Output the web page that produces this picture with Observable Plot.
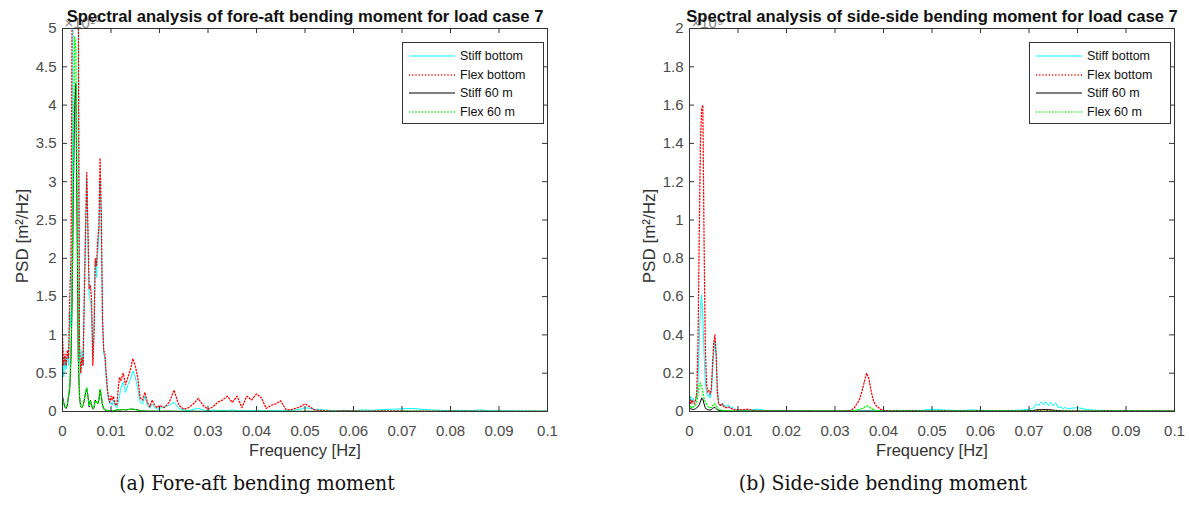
<!DOCTYPE html>
<html><head><meta charset="utf-8">
<script src="https://cdn.jsdelivr.net/npm/d3@7"></script>
<script src="https://cdn.jsdelivr.net/npm/@observablehq/plot@0.6"></script>
<style>
body{margin:0;background:#fff;}
#wrap{position:relative;width:1189px;height:510px;overflow:hidden;font-family:"Liberation Sans",Arial,sans-serif;}
.chart{position:absolute;top:0;}
.legend{position:absolute;border:1px solid #333;background:#fff;width:140px;height:80px;font-size:12.5px;color:#111;}
.legend .row{position:absolute;left:0;height:18px;line-height:18px;white-space:nowrap;}
.legend svg{position:absolute;left:5px;top:4px;}
.legend span{position:absolute;left:57px;top:0;}
.caption{position:absolute;font-family:"DejaVu Serif Condensed","DejaVu Serif",serif;font-stretch:condensed;font-size:21px;color:#111;text-align:center;width:500px;white-space:nowrap;}
</style></head><body><div id="wrap"></div>
<script>
// ---------- shared text / ticks ----------
const seriesNames = ["Stiff bottom", "Flex bottom", "Stiff 60 m", "Flex 60 m"];
const seriesColors = ["#00ffff", "#ff0000", "#000000", "#00ff00"];
const seriesDash = [null, "1.2,2", null, "1.2,2"];
const xTicks = [0, 0.01, 0.02, 0.03, 0.04, 0.05, 0.06, 0.07, 0.08, 0.09, 0.1];
const xTickLabels = ["0", "0.01", "0.02", "0.03", "0.04", "0.05", "0.06", "0.07", "0.08", "0.09", "0.1"];
const yTicksFA = [0, 0.5, 1, 1.5, 2, 2.5, 3, 3.5, 4, 4.5, 5];
const yTickLabelsFA = ["0", "0.5", "1", "1.5", "2", "2.5", "3", "3.5", "4", "4.5", "5"];
const yTicksSS = [0, 0.2, 0.4, 0.6, 0.8, 1, 1.2, 1.4, 1.6, 1.8, 2];
const yTickLabelsSS = ["0", "0.2", "0.4", "0.6", "0.8", "1", "1.2", "1.4", "1.6", "1.8", "2"];
const titleFA = "Spectral analysis of fore-aft bending moment for load case 7";
const titleSS = "Spectral analysis of side-side bending moment for load case 7";
const exponentFA = "×10¹⁰";
const exponentSS = "×10⁹";
const xLabel = "Frequency [Hz]";
const yLabel = "PSD [m²/Hz]";
const captionFA = "(a) Fore-aft bending moment";
const captionSS = "(b) Side-side bending moment";

// ---------- fore-aft data ----------
const freqFA = [
0, 0.00025, 0.0005, 0.00075, 0.001, 0.00125, 0.0015, 0.00175, 0.002, 0.00225,
0.0025, 0.00275, 0.003, 0.00325, 0.0035, 0.00375, 0.004, 0.00425, 0.0045, 0.00475,
0.005, 0.00525, 0.0055, 0.00575, 0.006, 0.00625, 0.0065, 0.00675, 0.007, 0.00725,
0.0075, 0.00775, 0.008, 0.00825, 0.0085, 0.00875, 0.009, 0.00925, 0.0095, 0.00975,
0.01, 0.01025, 0.0105, 0.01075, 0.011, 0.01125, 0.0115, 0.01175, 0.012,
0.0125, 0.013, 0.0135, 0.014, 0.0145, 0.015, 0.0155, 0.016, 0.0165, 0.017, 0.0175, 0.018, 0.0185, 0.019, 0.0195, 0.02,
0.021, 0.022, 0.023, 0.024, 0.025, 0.026, 0.027, 0.028, 0.029, 0.03, 0.031, 0.032, 0.033, 0.034, 0.035, 0.036, 0.037, 0.038, 0.039, 0.04, 0.041, 0.042, 0.043, 0.044, 0.045, 0.046, 0.047, 0.048, 0.049, 0.05,
0.052, 0.054, 0.056, 0.058, 0.06, 0.062, 0.064, 0.066, 0.068, 0.07, 0.072, 0.074, 0.076, 0.078, 0.08, 0.082, 0.084, 0.086, 0.088, 0.09, 0.092, 0.094, 0.096, 0.098, 0.1
];
const faStiffBottom = [
0.75, 0.45, 0.7, 0.55, 0.75, 0.6, 1.3, 1.1, 2.4, 6.0,
5.6, 5.3, 5.8, 5.5, 0.7, 0.5, 0.8, 0.6, 1.6, 2.4,
3.04, 2.2, 1.5, 1.45, 1.3, 0.7, 1.1, 1.95, 1.75, 2.05,
2.3, 3.0, 2.4, 1.2, 0.75, 0.7, 0.45, 0.25, 0.15, 0.1,
0.12, 0.08, 0.15, 0.1, 0.06, 0.05, 0.12, 0.2, 0.3,
0.38, 0.25, 0.35, 0.42, 0.53, 0.45, 0.3, 0.12, 0.1, 0.2, 0.08, 0.04, 0.1, 0.05, 0.03, 0.04,
0.06, 0.08, 0.12, 0.04, 0.02, 0.01, 0.03, 0.04, 0.02, 0.01, 0.02, 0.01, 0.015, 0.01, 0.02, 0.01, 0.008, 0.012, 0.01, 0.015, 0.01, 0.008, 0.01, 0.012, 0.008, 0.01, 0.015, 0.02, 0.03, 0.05,
0.03, 0.02, 0.01, 0.015, 0.01, 0.02, 0.015, 0.025, 0.03, 0.035, 0.04, 0.03, 0.02, 0.015, 0.01, 0.015, 0.01, 0.02, 0.01, 0.008, 0.01, 0.006, 0.008, 0.005, 0.005
];
const faFlexBottom = [
1.0, 0.6, 0.75, 0.6, 0.8, 0.7, 1.5, 2.0, 5.5, 6.0,
6.0, 5.8, 6.0, 5.6, 0.9, 0.5, 0.7, 0.6, 1.5, 2.3,
3.12, 2.4, 1.6, 1.65, 1.45, 0.6, 1.0, 2.0, 1.9, 2.23,
2.4, 3.31, 2.6, 1.2, 0.8, 0.75, 0.5, 0.3, 0.18, 0.12,
0.2, 0.15, 0.2, 0.12, 0.08, 0.1, 0.3, 0.45, 0.4,
0.5, 0.35, 0.45, 0.55, 0.69, 0.6, 0.45, 0.18, 0.15, 0.25, 0.12, 0.06, 0.15, 0.08, 0.05, 0.08,
0.05, 0.12, 0.28, 0.08, 0.03, 0.05, 0.1, 0.17, 0.08, 0.03, 0.06, 0.12, 0.15, 0.2, 0.12, 0.2, 0.05, 0.2, 0.15, 0.23, 0.18, 0.04, 0.08, 0.1, 0.14, 0.03, 0.02, 0.04, 0.06, 0.1,
0.02, 0.01, 0.005, 0.01, 0.008, 0.005, 0.006, 0.01, 0.008, 0.005, 0.006, 0.004, 0.005, 0.003, 0.004, 0.003, 0.003, 0.004, 0.002, 0.003, 0.002, 0.002, 0.003, 0.002, 0.002
];
const faStiff60 = [
0.2, 0.12, 0.06, 0.04, 0.08, 0.2, 0.3, 0.7, 1.5, 2.9,
4.0, 4.28, 2.5, 0.7, 0.2, 0.06, 0.05, 0.08, 0.15, 0.25,
0.3, 0.2, 0.06, 0.15, 0.08, 0.03, 0.05, 0.15, 0.12, 0.1,
0.15, 0.28, 0.2, 0.08, 0.03, 0.02, 0.015, 0.01, 0.01, 0.008,
0.01, 0.008, 0.01, 0.012, 0.015, 0.02, 0.02, 0.018, 0.02,
0.025, 0.02, 0.025, 0.03, 0.03, 0.025, 0.02, 0.01, 0.008, 0.006, 0.005, 0.004, 0.005, 0.004, 0.003, 0.003,
0.003, 0.004, 0.003, 0.002, 0.003, 0.002, 0.003, 0.002, 0.002, 0.003, 0.002, 0.002, 0.003, 0.002, 0.002, 0.002, 0.003, 0.002, 0.002, 0.002, 0.002, 0.003, 0.002, 0.002, 0.002, 0.002, 0.002, 0.002, 0.002, 0.003,
0.002, 0.002, 0.002, 0.002, 0.002, 0.002, 0.002, 0.002, 0.002, 0.003, 0.003, 0.003, 0.002, 0.002, 0.002, 0.002, 0.002, 0.002, 0.002, 0.002, 0.002, 0.002, 0.002, 0.002, 0.002
];
const faFlex60 = [
0.18, 0.1, 0.05, 0.05, 0.1, 0.22, 0.35, 0.8, 1.6, 3.2,
4.9, 4.75, 3.0, 0.8, 0.22, 0.07, 0.05, 0.09, 0.16, 0.26,
0.32, 0.2, 0.07, 0.14, 0.09, 0.04, 0.06, 0.14, 0.13, 0.1,
0.16, 0.3, 0.22, 0.09, 0.04, 0.025, 0.02, 0.012, 0.01, 0.01,
0.012, 0.01, 0.012, 0.014, 0.018, 0.022, 0.024, 0.02, 0.022,
0.028, 0.022, 0.026, 0.032, 0.03, 0.026, 0.02, 0.012, 0.008, 0.007, 0.005, 0.005, 0.005, 0.004, 0.004, 0.003,
0.003, 0.004, 0.004, 0.003, 0.003, 0.002, 0.003, 0.003, 0.002, 0.003, 0.002, 0.003, 0.003, 0.002, 0.003, 0.002, 0.003, 0.002, 0.002, 0.003, 0.002, 0.003, 0.002, 0.002, 0.002, 0.002, 0.002, 0.002, 0.002, 0.003,
0.002, 0.002, 0.002, 0.002, 0.002, 0.002, 0.002, 0.002, 0.002, 0.003, 0.003, 0.003, 0.002, 0.002, 0.002, 0.002, 0.002, 0.002, 0.002, 0.002, 0.002, 0.002, 0.002, 0.002, 0.002
];

// ---------- side-side data ----------
const freqSS = [
0, 0.00025, 0.0005, 0.00075, 0.001, 0.00125, 0.0015, 0.00175, 0.002, 0.00225,
0.0025, 0.00275, 0.003, 0.00325, 0.0035, 0.00375, 0.004, 0.00425, 0.0045, 0.00475,
0.005, 0.00525, 0.0055, 0.00575, 0.006, 0.00625, 0.0065, 0.00675, 0.007, 0.00725,
0.0075, 0.00775, 0.008, 0.00825, 0.0085, 0.00875, 0.009, 0.00925, 0.0095, 0.00975,
0.01,
0.011, 0.012, 0.013, 0.014, 0.015, 0.016, 0.017, 0.018, 0.019, 0.02, 0.021, 0.022, 0.023, 0.024, 0.025, 0.026, 0.027, 0.028, 0.029, 0.03, 0.031, 0.032,
0.033, 0.0335, 0.034, 0.0345, 0.035, 0.0355, 0.036, 0.0365, 0.037, 0.0375, 0.038, 0.0385, 0.039, 0.0395, 0.04,
0.042, 0.044, 0.046, 0.048, 0.05, 0.052, 0.054, 0.056, 0.058, 0.06, 0.062, 0.064, 0.066, 0.068,
0.069, 0.0695, 0.07, 0.0705, 0.071, 0.0715, 0.072, 0.0725, 0.073, 0.0735, 0.074, 0.0745, 0.075, 0.0755, 0.076, 0.0765, 0.077, 0.0775, 0.078,
0.08, 0.082, 0.084, 0.086, 0.088, 0.09, 0.092, 0.094, 0.096, 0.098, 0.1
];
const ssStiffBottom = [
0.05, 0.08, 0.04, 0.07, 0.05, 0.06, 0.08, 0.15, 0.35, 0.55,
0.61, 0.5, 0.3, 0.15, 0.1, 0.08, 0.09, 0.07, 0.1, 0.2,
0.3, 0.37, 0.28, 0.12, 0.04, 0.03, 0.04, 0.03, 0.04, 0.03,
0.025, 0.03, 0.035, 0.03, 0.02, 0.025, 0.02, 0.015, 0.01, 0.008,
0.008,
0.006, 0.005, 0.01, 0.012, 0.008, 0.005, 0.004, 0.005, 0.006, 0.004, 0.003, 0.004, 0.003, 0.003, 0.004, 0.003, 0.003, 0.002, 0.003, 0.003, 0.002, 0.003,
0.003, 0.003, 0.002, 0.003, 0.003, 0.002, 0.003, 0.004, 0.003, 0.003, 0.002, 0.003, 0.003, 0.002, 0.003,
0.003, 0.004, 0.005, 0.006, 0.012, 0.008, 0.006, 0.005, 0.008, 0.006, 0.005, 0.004, 0.005, 0.007,
0.008, 0.01, 0.012, 0.015, 0.02, 0.04, 0.03, 0.05, 0.035, 0.05, 0.03, 0.048, 0.03, 0.045, 0.02, 0.025, 0.015, 0.022, 0.015,
0.02, 0.01, 0.006, 0.005, 0.004, 0.004, 0.003, 0.003, 0.003, 0.002, 0.002
];
const ssFlexBottom = [
0.08, 0.04, 0.06, 0.05, 0.04, 0.06, 0.1, 0.35, 0.9, 1.4,
1.58, 1.6, 0.9, 0.35, 0.15, 0.1, 0.11, 0.09, 0.12, 0.25,
0.36, 0.4, 0.3, 0.1, 0.04, 0.035, 0.03, 0.04, 0.03, 0.02,
0.02, 0.02, 0.025, 0.02, 0.015, 0.015, 0.01, 0.01, 0.008, 0.008,
0.01,
0.01, 0.012, 0.006, 0.005, 0.004, 0.004, 0.003, 0.003, 0.004, 0.003, 0.003, 0.002, 0.003, 0.002, 0.003, 0.002, 0.002, 0.003, 0.002, 0.002, 0.003, 0.004,
0.005, 0.01, 0.02, 0.04, 0.06, 0.1, 0.15, 0.2, 0.17, 0.1, 0.05, 0.03, 0.02, 0.01, 0.005,
0.003, 0.002, 0.003, 0.002, 0.002, 0.003, 0.002, 0.002, 0.002, 0.003, 0.002, 0.002, 0.002, 0.002,
0.002, 0.002, 0.003, 0.003, 0.004, 0.005, 0.006, 0.008, 0.01, 0.008, 0.006, 0.008, 0.005, 0.004, 0.003, 0.003, 0.002, 0.002, 0.002,
0.002, 0.002, 0.002, 0.003, 0.002, 0.002, 0.002, 0.002, 0.002, 0.002, 0.002
];
const ssStiff60 = [
0.01, 0.015, 0.012, 0.01, 0.012, 0.015, 0.02, 0.025, 0.035, 0.05,
0.07, 0.065, 0.04, 0.02, 0.012, 0.01, 0.008, 0.008, 0.01, 0.015,
0.02, 0.022, 0.015, 0.008, 0.005, 0.005, 0.004, 0.004, 0.004, 0.003,
0.003, 0.003, 0.003, 0.003, 0.003, 0.002, 0.002, 0.002, 0.002, 0.002,
0.002,
0.002, 0.002, 0.002, 0.002, 0.002, 0.002, 0.002, 0.002, 0.002, 0.002, 0.002, 0.002, 0.002, 0.002, 0.002, 0.002, 0.002, 0.002, 0.002, 0.002, 0.002, 0.002,
0.002, 0.002, 0.002, 0.002, 0.002, 0.002, 0.002, 0.002, 0.002, 0.002, 0.002, 0.002, 0.002, 0.002, 0.002,
0.002, 0.002, 0.002, 0.002, 0.002, 0.002, 0.002, 0.002, 0.002, 0.002, 0.002, 0.002, 0.002, 0.002,
0.003, 0.003, 0.004, 0.005, 0.006, 0.008, 0.01, 0.008, 0.01, 0.009, 0.01, 0.008, 0.007, 0.006, 0.005, 0.004, 0.003, 0.003, 0.003,
0.002, 0.002, 0.002, 0.002, 0.002, 0.002, 0.002, 0.002, 0.002, 0.002, 0.002
];
const ssFlex60 = [
0.02, 0.03, 0.02, 0.02, 0.03, 0.03, 0.05, 0.09, 0.14, 0.15,
0.13, 0.1, 0.07, 0.05, 0.04, 0.03, 0.02, 0.02, 0.02, 0.03,
0.04, 0.04, 0.03, 0.02, 0.01, 0.008, 0.008, 0.006, 0.006, 0.005,
0.005, 0.004, 0.004, 0.004, 0.003, 0.003, 0.003, 0.003, 0.002, 0.002,
0.002,
0.002, 0.002, 0.002, 0.002, 0.002, 0.002, 0.002, 0.002, 0.002, 0.002, 0.002, 0.002, 0.002, 0.002, 0.002, 0.002, 0.002, 0.002, 0.002, 0.002, 0.002, 0.002,
0.001, 0.003, 0.005, 0.008, 0.01, 0.015, 0.02, 0.03, 0.025, 0.015, 0.01, 0.005, 0.003, 0.002, 0.001,
0.002, 0.002, 0.002, 0.002, 0.002, 0.002, 0.002, 0.002, 0.002, 0.002, 0.002, 0.002, 0.002, 0.002,
0.002, 0.002, 0.002, 0.002, 0.002, 0.002, 0.002, 0.002, 0.002, 0.002, 0.002, 0.002, 0.002, 0.002, 0.002, 0.002, 0.002, 0.002, 0.002,
0.002, 0.002, 0.002, 0.002, 0.002, 0.002, 0.002, 0.002, 0.002, 0.002, 0.002
];

// ---------- drawing ----------
const FONT = "'Liberation Sans', Arial, sans-serif";
const H = 470, MT = 28, MB = 59, FW = 485;
const FH = H - MT - MB;

function rows(freq, vals) {
  const n = Math.min(freq.length, vals.length);
  const out = [];
  for (let i = 0; i < n; i++) out.push({f: freq[i], v: vals[i]});
  return out;
}

function makeChart({width, marginLeft, freq, series, yDomain, yTicks, yTickLabels, title, exponent}) {
  const marginRight = width - marginLeft - FW;
  const lineMarks = series.map((vals, k) => Plot.line(rows(freq, vals), {
    x: "f", y: "v", stroke: seriesColors[k], strokeWidth: seriesDash[k] ? 1.3 : 1,
    strokeDasharray: seriesDash[k] || undefined, clip: true, curve: "linear"
  }));
  return Plot.plot({
    width, height: H, marginLeft, marginRight, marginTop: MT, marginBottom: MB,
    style: {fontFamily: FONT, background: "transparent", overflow: "visible"},
    x: {domain: [0, 0.1]},
    y: {domain: yDomain},
    marks: [
      ...lineMarks,
      Plot.frame({stroke: "#333", strokeWidth: 1}),
      Plot.tickX(xTicks, {x: d => d, insetTop: FH - 5, stroke: "#333"}),
      Plot.tickX(xTicks, {x: d => d, insetBottom: FH - 5, stroke: "#333"}),
      Plot.tickY(yTicks, {y: d => d, insetRight: FW - 5, stroke: "#333"}),
      Plot.tickY(yTicks, {y: d => d, insetLeft: FW - 5, stroke: "#333"}),
      Plot.axisX(xTicks, {tickSize: 0, tickPadding: 14, fontSize: 15, fill: "#4a4a4a",
        tickFormat: d => xTickLabels[xTicks.indexOf(d)], label: null}),
      Plot.axisY(yTicks, {tickSize: 0, tickPadding: 6, fontSize: 15, fill: "#4a4a4a",
        tickFormat: d => yTickLabels[yTicks.indexOf(d)], label: null}),
      Plot.text([xLabel], {text: d => d, frameAnchor: "bottom", dy: 44, fontSize: 16.5, fill: "#333"}),
      Plot.text([yLabel], {text: d => d, frameAnchor: "left", textAnchor: "middle", lineAnchor: "middle",
        dx: -40, dy: 16, rotate: -90, fontSize: 17, fill: "#333"}),
      Plot.text([exponent], {text: d => d, frameAnchor: "top-left", dx: 2, dy: -11, textAnchor: "start", fontSize: 15, fill: "#888"}),
      Plot.text([title], {text: d => d, frameAnchor: "top", dy: -18, fontSize: 16.6, fontWeight: "bold", fill: "#111"})
    ]
  });
}

const wrap = document.getElementById("wrap");

function addLegend(left, top) {
  const box = document.createElement("div");
  box.className = "legend";
  box.style.left = left + "px";
  box.style.top = top + "px";
  seriesNames.forEach((name, k) => {
    const row = document.createElement("div");
    row.className = "row";
    row.style.top = (4 + k * 18.5) + "px";
    row.style.width = "140px";
    const dash = seriesDash[k] ? ` stroke-dasharray="${seriesDash[k]}"` : "";
    row.innerHTML = `<svg width="48" height="10"><line x1="1" x2="47" y1="5" y2="5" stroke="${seriesColors[k]}" stroke-width="${seriesDash[k] ? 1.3 : 1}"${dash}/></svg><span>${name}</span>`;
    box.appendChild(row);
  });
  wrap.appendChild(box);
}

function addCaption(text, center, top) {
  const c = document.createElement("div");
  c.className = "caption";
  c.textContent = text;
  c.style.left = (center - 250) + "px";
  c.style.top = top + "px";
  wrap.appendChild(c);
}

const left = makeChart({width: 594, marginLeft: 62, freq: freqFA,
  series: [faStiffBottom, faFlexBottom, faStiff60, faFlex60],
  yDomain: [0, 5], yTicks: yTicksFA, yTickLabels: yTickLabelsFA, title: titleFA, exponent: exponentFA});
left.classList.add("chart");
left.style.left = "0px";
wrap.appendChild(left);

const right = makeChart({width: 595, marginLeft: 95, freq: freqSS,
  series: [ssStiffBottom, ssFlexBottom, ssStiff60, ssFlex60],
  yDomain: [0, 2], yTicks: yTicksSS, yTickLabels: yTickLabelsSS, title: titleSS, exponent: exponentSS});
right.classList.add("chart");
right.style.left = "594px";
wrap.appendChild(right);

addLegend(402, 42);
addLegend(1029, 42);
addCaption(captionFA, 257, 471);
addCaption(captionSS, 883, 471);
</script></body></html>
